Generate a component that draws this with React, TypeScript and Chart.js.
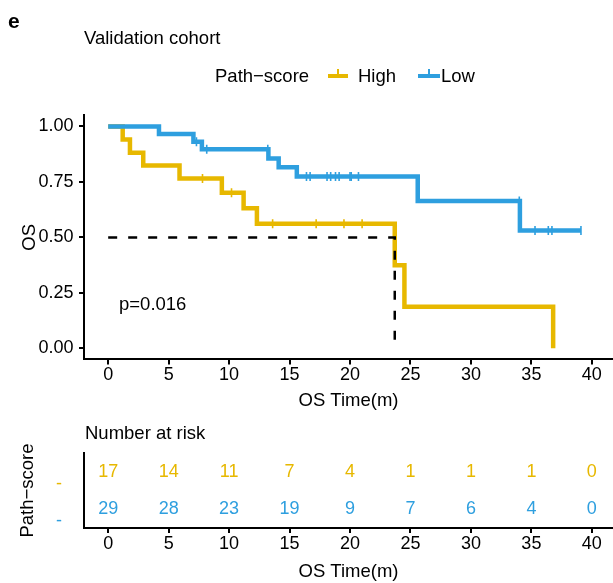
import React, { useEffect, useRef } from 'react';
import { Chart, registerables } from 'chart.js';
Chart.register(...registerables);

const GOLD = '#E7B800';
const BLUE = '#2E9FDF';
const FONT = "'Liberation Sans', Arial, Helvetica, sans-serif";

// axis ticks
const xTicks = [0, 5, 10, 15, 20, 25, 30, 35, 40];
const yTicks = [0, 0.25, 0.5, 0.75, 1];

// Kaplan-Meier curve: High path-score
const highTimes = [0, 1.2, 1.8, 2.9, 5.9, 9.4, 11.2, 12.3, 23.7, 24.5, 36.8];
const highSurv = [1, 0.941, 0.882, 0.824, 0.765, 0.701, 0.631, 0.561, 0.374, 0.187, 0];
const highCensorTimes = [7.8, 10.2, 13.6, 17.2, 19.5, 21.0];
const highCensorSurv = [0.765, 0.701, 0.561, 0.561, 0.561, 0.561];

// Kaplan-Meier curve: Low path-score
const lowTimes = [0, 4.2, 7.05, 7.75, 13.25, 14.1, 15.6, 25.6, 34.05, 39.1];
const lowSurv = [1, 0.966, 0.931, 0.897, 0.856, 0.816, 0.775, 0.664, 0.531, 0.531];
const lowCensorTimes = [7.3, 8.15, 13.2, 16.4, 16.7, 18.1, 18.4, 18.8, 19.1, 20.0, 20.1, 20.7, 34.0, 35.3, 36.4, 36.7, 39.1];
const lowCensorSurv = [0.931, 0.897, 0.897, 0.775, 0.775, 0.775, 0.775, 0.775, 0.775, 0.775, 0.775, 0.775, 0.664, 0.531, 0.531, 0.531, 0.531];

// median survival (High)
const medianTime = 23.7;
const medianSurv = 0.5;

// number at risk table
const riskTimes = [0, 5, 10, 15, 20, 25, 30, 35, 40];
const riskHigh = [17, 14, 11, 7, 4, 1, 1, 1, 0];
const riskLow = [29, 28, 23, 19, 9, 7, 6, 4, 0];
const riskGroups = ['High', 'Low'];
const riskColors = [GOLD, BLUE];
const riskValues = [riskHigh, riskLow];

const pText = 'p=0.016';

const toPts = (xs: number[], ys: number[]) => xs.map((x, i) => ({ x, y: ys[i] }));

const xAxis = (height: number, titlePadBottom: number) => ({
  type: 'linear' as const,
  min: -2,
  max: 41.75,
  afterBuildTicks: (s: any) => {
    s.ticks = xTicks.map((v) => ({ value: v }));
  },
  afterFit: (s: any) => {
    s.height = height;
    s.paddingLeft = 0;
    s.paddingRight = 0;
  },
  ticks: {
    color: '#000',
    font: { size: 18, family: FONT, lineHeight: 1 },
    padding: 2,
    maxRotation: 0,
    autoSkip: false,
    callback: (v: any) => String(v),
  },
  grid: { drawOnChartArea: false, drawTicks: true, tickLength: 5, color: '#000', lineWidth: 2 },
  border: { display: true, color: '#000', width: 2 },
  title: {
    display: true,
    text: 'OS Time(m)',
    color: '#000',
    font: { size: 18.5, family: FONT },
    padding: { top: 0, bottom: titlePadBottom },
  },
});

const censorStyle = (color: string) => ({
  type: 'scatter' as const,
  showLine: false,
  pointStyle: 'line' as const,
  rotation: 90,
  pointRadius: 4.5,
  pointBorderWidth: 1.6,
  pointBorderColor: color,
  pointBackgroundColor: color,
  borderColor: color,
});

const lineStyle = (color: string) => ({
  type: 'line' as const,
  stepped: 'before' as const,
  borderColor: color,
  borderWidth: 4.5,
  pointRadius: 0,
  fill: false,
  borderJoinStyle: 'miter' as const,
  borderCapStyle: 'butt' as const,
});

function KMChart() {
  const ref = useRef<HTMLCanvasElement>(null);
  useEffect(() => {
    if (!ref.current) return;
    const chart = new Chart(ref.current, {
      type: 'line',
      data: {
        datasets: [
          {
            type: 'line',
            data: [
              { x: 0, y: medianSurv },
              { x: medianTime, y: medianSurv },
              { x: medianTime, y: 0 },
            ],
            borderColor: '#000',
            borderWidth: 2.5,
            borderDash: [9, 11],
            pointRadius: 0,
            fill: false,
          } as any,
          { ...censorStyle(BLUE), data: toPts(lowCensorTimes, lowCensorSurv) } as any,
          { ...lineStyle(BLUE), data: toPts(lowTimes, lowSurv) } as any,
          { ...censorStyle(GOLD), data: toPts(highCensorTimes, highCensorSurv) } as any,
          { ...lineStyle(GOLD), data: toPts(highTimes, highSurv) } as any,
        ],
      },
      options: {
        responsive: false,
        animation: false,
        events: [],
        layout: { autoPadding: false, padding: { top: 115.4, left: 0, right: 0, bottom: 0 } },
        plugins: { legend: { display: false }, tooltip: { enabled: false }, title: { display: false } },
        scales: {
          x: xAxis(60.6, 8.2) as any,
          y: {
            type: 'linear',
            min: -0.05,
            max: 1.05,
            afterBuildTicks: (s: any) => {
              s.ticks = yTicks.map((v) => ({ value: v }));
            },
            afterFit: (s: any) => {
              s.width = 84;
            },
            ticks: {
              color: '#000',
              font: { size: 18, family: FONT },
              padding: 5.5,
              callback: (v: any) => Number(v).toFixed(2),
            },
            grid: { drawOnChartArea: false, drawTicks: true, tickLength: 5, color: '#000', lineWidth: 2 },
            border: { display: true, color: '#000', width: 2 },
            title: {
              display: true,
              text: 'OS',
              color: '#000',
              font: { size: 18.5, family: FONT },
              padding: { top: 19, bottom: 0 },
            },
          },
        },
      } as any,
    });
    return () => chart.destroy();
  }, []);
  return <canvas ref={ref} width={613} height={420} style={{ position: 'absolute', left: 0, top: 0 }} />;
}

const rowValue = (i: number) => riskGroups.length - i - 0.5;

const riskTextPlugin = {
  id: 'riskText',
  afterDatasetsDraw(chart: any) {
    const { ctx, scales } = chart;
    const x = scales.x;
    const y = scales.y;
    ctx.save();
    ctx.font = `18px ${FONT}`;
    ctx.textAlign = 'center';
    ctx.textBaseline = 'middle';
    riskValues.forEach((vals, gi) => {
      ctx.fillStyle = riskColors[gi];
      vals.forEach((v, i) => {
        ctx.fillText(String(v), x.getPixelForValue(riskTimes[i]), y.getPixelForValue(rowValue(gi)));
      });
    });
    ctx.restore();
  },
};

function RiskTable() {
  const ref = useRef<HTMLCanvasElement>(null);
  useEffect(() => {
    if (!ref.current) return;
    const chart = new Chart(ref.current, {
      type: 'scatter',
      data: { datasets: [] },
      plugins: [riskTextPlugin],
      options: {
        responsive: false,
        animation: false,
        events: [],
        layout: { autoPadding: false, padding: { top: 33, left: 0, right: 0, bottom: 0 } },
        plugins: { legend: { display: false }, tooltip: { enabled: false } },
        scales: {
          x: xAxis(55, 0.2) as any,
          y: {
            type: 'linear',
            min: 0,
            max: riskGroups.length,
            afterBuildTicks: (s: any) => {
              s.ticks = riskGroups.map((_, i) => ({ value: rowValue(i) }));
            },
            afterFit: (s: any) => {
              s.width = 84;
            },
            ticks: {
              color: (c: any) => riskColors[riskGroups.length - 0.5 - c.tick.value] || '#000',
              font: { size: 18, family: FONT },
              padding: 22,
              labelOffset: 12,
              callback: () => '-',
            },
            grid: { drawOnChartArea: false, drawTicks: false, color: '#000', lineWidth: 2 },
            border: { display: true, color: '#000', width: 2 },
            title: {
              display: true,
              text: 'Path−score',
              color: '#000',
              font: { size: 18.5, family: FONT },
              padding: { top: 17, bottom: 0 },
            },
          },
        },
      } as any,
    });
    return () => chart.destroy();
  }, []);
  return <canvas ref={ref} width={613} height={163} style={{ position: 'absolute', left: 0, top: 420 }} />;
}

const txt = (fs: number, center: number, left: number, extra: any = {}) => ({
  position: 'absolute' as const,
  left,
  top: center - fs * 0.5,
  fontSize: fs,
  lineHeight: 1,
  fontFamily: FONT,
  color: '#000',
  whiteSpace: 'nowrap' as const,
  zIndex: 2,
  ...extra,
});

function LegendKey({ color, left, width }: { color: string; left: number; width: number }) {
  return (
    <div style={{ position: 'absolute', left, top: 66, width, height: 14, zIndex: 2 }}>
      <div style={{ position: 'absolute', left: 0, top: 8, width, height: 4, background: color }} />
      <div style={{ position: 'absolute', left: width / 2 - 0.8, top: 3, width: 1.6, height: 9, background: color }} />
    </div>
  );
}

export default function App() {
  return (
    <div style={{ position: 'absolute', left: 0, top: 0, width: 613, height: 583, background: '#fff', overflow: 'hidden' }}>
      <KMChart />
      <RiskTable />
      <div style={txt(21, 20, 8, { fontWeight: 'bold' })}>e</div>
      <div style={txt(18.5, 38, 84)}>Validation cohort</div>
      <div style={txt(18.5, 76.5, 215)}>Path−score</div>
      <LegendKey color={GOLD} left={328} width={20} />
      <div style={txt(18.5, 76.5, 358)}>{riskGroups[0]}</div>
      <LegendKey color={BLUE} left={418} width={22} />
      <div style={txt(18.5, 76.5, 441)}>{riskGroups[1]}</div>
      <div style={txt(18.5, 304, 119)}>{pText}</div>
      <div style={txt(18.5, 433, 85)}>Number at risk</div>
    </div>
  );
}
